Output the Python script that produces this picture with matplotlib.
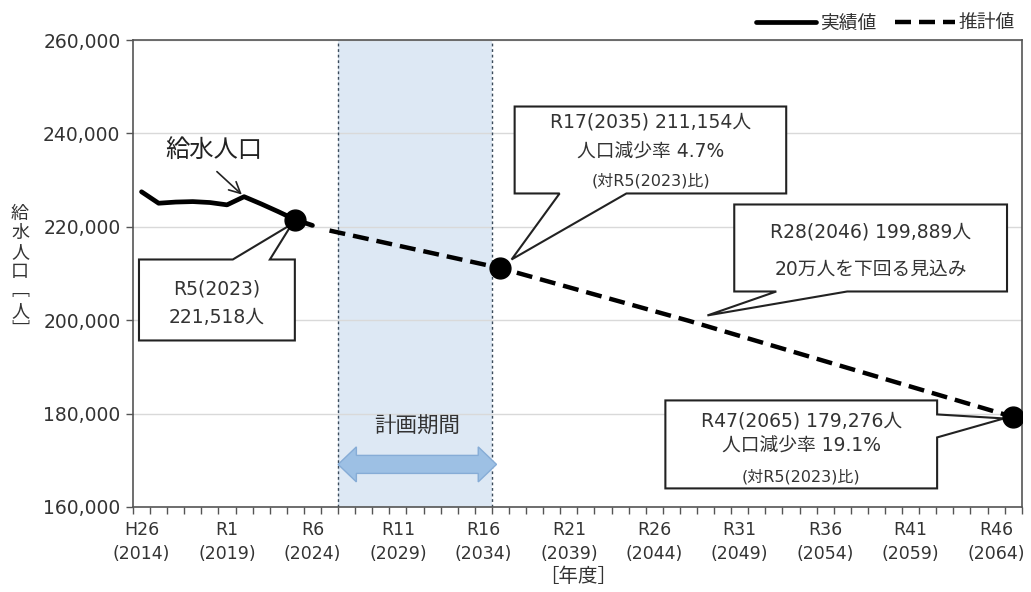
import matplotlib
matplotlib.use("Agg")
import matplotlib.pyplot as plt
from matplotlib.patches import Polygon
import numpy as np

plt.rcParams["font.family"] = ["DejaVu Sans", "Noto Sans CJK JP"]

# 給水人口 実績値 (H26〜R6)
actual_years = [2014, 2015, 2016, 2017, 2018, 2019, 2020, 2021, 2022, 2023, 2024]
actual_pop = [227500, 225050, 225300, 225400, 225200, 224700, 226450, 224900, 223250, 221518, 220300]

# 推計値
est_years = [2025, 2035, 2046, 2065]
est_pop = [219200, 211154, 199889, 179276]

# 吹き出しを付ける年度
marked_years = [2023, 2035, 2065]
marked_pop = [221518, 211154, 179276]

tick_years = [2014, 2019, 2024, 2029, 2034, 2039, 2044, 2049, 2054, 2059, 2064]
tick_era = ["H26", "R1", "R6", "R11", "R16", "R21", "R26", "R31", "R36", "R41", "R46"]

plan_start, plan_end = 2025.5, 2034.5

TXT = "#333333"
CJK = ["Noto Sans CJK JP", "DejaVu Sans"]


def callout(ax, box, tip, base, side):
    x0, y0, x1, y1 = box
    b1, b2 = base
    if side == "top":
        pts = [(x0, y0), (x1, y0), (x1, y1), (b2, y1), tip, (b1, y1), (x0, y1)]
    elif side == "bottom":
        pts = [(x0, y0), (b1, y0), tip, (b2, y0), (x1, y0), (x1, y1), (x0, y1)]
    else:  # right
        pts = [(x0, y0), (x1, y0), (x1, b1), tip, (x1, b2), (x1, y1), (x0, y1)]
    ax.add_patch(Polygon(pts, closed=True, facecolor="white", edgecolor="#222222",
                         lw=1.5, zorder=4, joinstyle="miter"))


def box_text(ax, x, y, s, size=13.5):
    ax.text(x, y, s, ha="center", va="center", fontsize=size, color=TXT, zorder=6)


fig = plt.figure(figsize=(10.31, 5.92), dpi=100)
ax = fig.add_axes([0.129, 0.1436, 0.862, 0.7888])

ax.set_xlim(2013.5, 2065.5)
ax.set_ylim(160000, 260000)

# 計画期間
ax.axvspan(plan_start, plan_end, color="#dde8f4", zorder=0.2, lw=0)
for xv in (plan_start, plan_end):
    ax.axvline(xv, color="#3a4a5a", lw=1.0, ls=(0, (2, 2)), zorder=0.6)

ax.plot(actual_years, actual_pop, color="black", lw=3.4, solid_capstyle="round",
        solid_joinstyle="round", zorder=3, label="実績値")
ax.plot(est_years, est_pop, color="black", lw=3.2, ls=(0, (3.6, 1.8)),
        dash_capstyle="butt", zorder=3, label="推計値")
ax.plot(marked_years, marked_pop, "o", color="black", ms=15, zorder=5)

# 軸・目盛
ax.set_yticks(np.arange(160000, 260001, 20000))
ax.set_yticklabels([f"{v:,}" for v in range(160000, 260001, 20000)], fontsize=13.5, color=TXT)
ax.set_xticks(tick_years)
ax.set_xticklabels([f"{e}\n({y})" for e, y in zip(tick_era, tick_years)],
                   fontsize=12.5, color=TXT, linespacing=1.45)
ax.set_xticks(np.arange(2013.5, 2066, 1), minor=True)
ax.tick_params(axis="x", which="major", length=0, pad=10)
ax.tick_params(axis="x", which="minor", length=5, width=1, color="#555555", direction="out")
ax.tick_params(axis="y", length=5, width=1, color="#555555", pad=4)
ax.set_axisbelow(True)
ax.yaxis.grid(True, color="#d9d9d9", lw=1)
for s in ax.spines.values():
    s.set_color("#555555")
    s.set_linewidth(1.2)

# 吹き出し
callout(ax, (2013.85, 195660, 2022.97, 213000), (2022.8, 220600), (2019.34, 2021.51), "top")
box_text(ax, 2018.4, 206600, "R5(2023)")
box_text(ax, 2018.4, 200600, "221,518人")

callout(ax, (2035.83, 227140, 2051.72, 245760), (2035.65, 213000), (2038.46, 2042.37), "bottom")
box_text(ax, 2043.78, 242340, "R17(2035) 211,154人")
box_text(ax, 2043.78, 235910, "人口減少率 4.7%")
box_text(ax, 2043.78, 229920, "(対R5(2023)比)", 11.5)

callout(ax, (2048.68, 206150, 2064.64, 224780), (2047.11, 201020), (2051.14, 2055.29), "bottom")
box_text(ax, 2056.66, 218860, "R28(2046) 199,889人")
box_text(ax, 2056.66, 210940, "20万人を下回る見込み")

callout(ax, (2044.65, 163980, 2060.55, 182820), (2064.46, 178960), (174900, 179820), "right")
box_text(ax, 2052.6, 178320, "R47(2065) 179,276人")
box_text(ax, 2052.6, 172970, "人口減少率 19.1%")
box_text(ax, 2052.6, 166550, "(対R5(2023)比)", 11.5)

# 系列名
ax.text(2018.25, 236530, "給水人口", ha="center", va="center", fontsize=17.5,
        color="#222222", family=CJK, zorder=6)
ax.annotate("", xy=(2019.87, 226900), xytext=(2018.41, 231820),
            arrowprops=dict(arrowstyle="->", color="#222222", lw=1.2,
                            mutation_scale=20, shrinkA=0, shrinkB=0), zorder=6)

# 計画期間の矢印
ax.text(2030.1, 177250, "計画期間", ha="center", va="center", fontsize=15.5,
        color=TXT, family=CJK, zorder=6)
ay, sh, hh, hl = 169120, 1930, 3750, 1.07
xa, xb = 2025.5, 2034.77
arrow_pts = [(xa, ay), (xa + hl, ay + hh), (xa + hl, ay + sh), (xb - hl, ay + sh),
             (xb - hl, ay + hh), (xb, ay), (xb - hl, ay - hh), (xb - hl, ay - sh),
             (xa + hl, ay - sh), (xa + hl, ay - hh)]
ax.add_patch(Polygon(arrow_pts, closed=True, facecolor="#9dc0e4", edgecolor="#86acd6",
                     lw=1, zorder=4))

# 凡例
leg = ax.legend(loc="lower right", bbox_to_anchor=(1.0, 1.0), ncol=2, frameon=False,
                prop={"family": CJK, "size": 13.5}, handlelength=3.2, handletextpad=0.2,
                columnspacing=1.0, borderaxespad=0.15, borderpad=0.2, labelcolor=TXT)

fig.text(20 / 1031, 1 - 272 / 592, "給\n水\n人\n口\n﹇\n人\n﹈", ha="center", va="center",
         fontsize=13, color=TXT, linespacing=1.1, family=CJK)
fig.text(578 / 1031, 1 - 577 / 592, "［年度］", ha="center", va="center", fontsize=14,
         color=TXT, family=CJK)

fig.savefig("out.png", dpi=100)
